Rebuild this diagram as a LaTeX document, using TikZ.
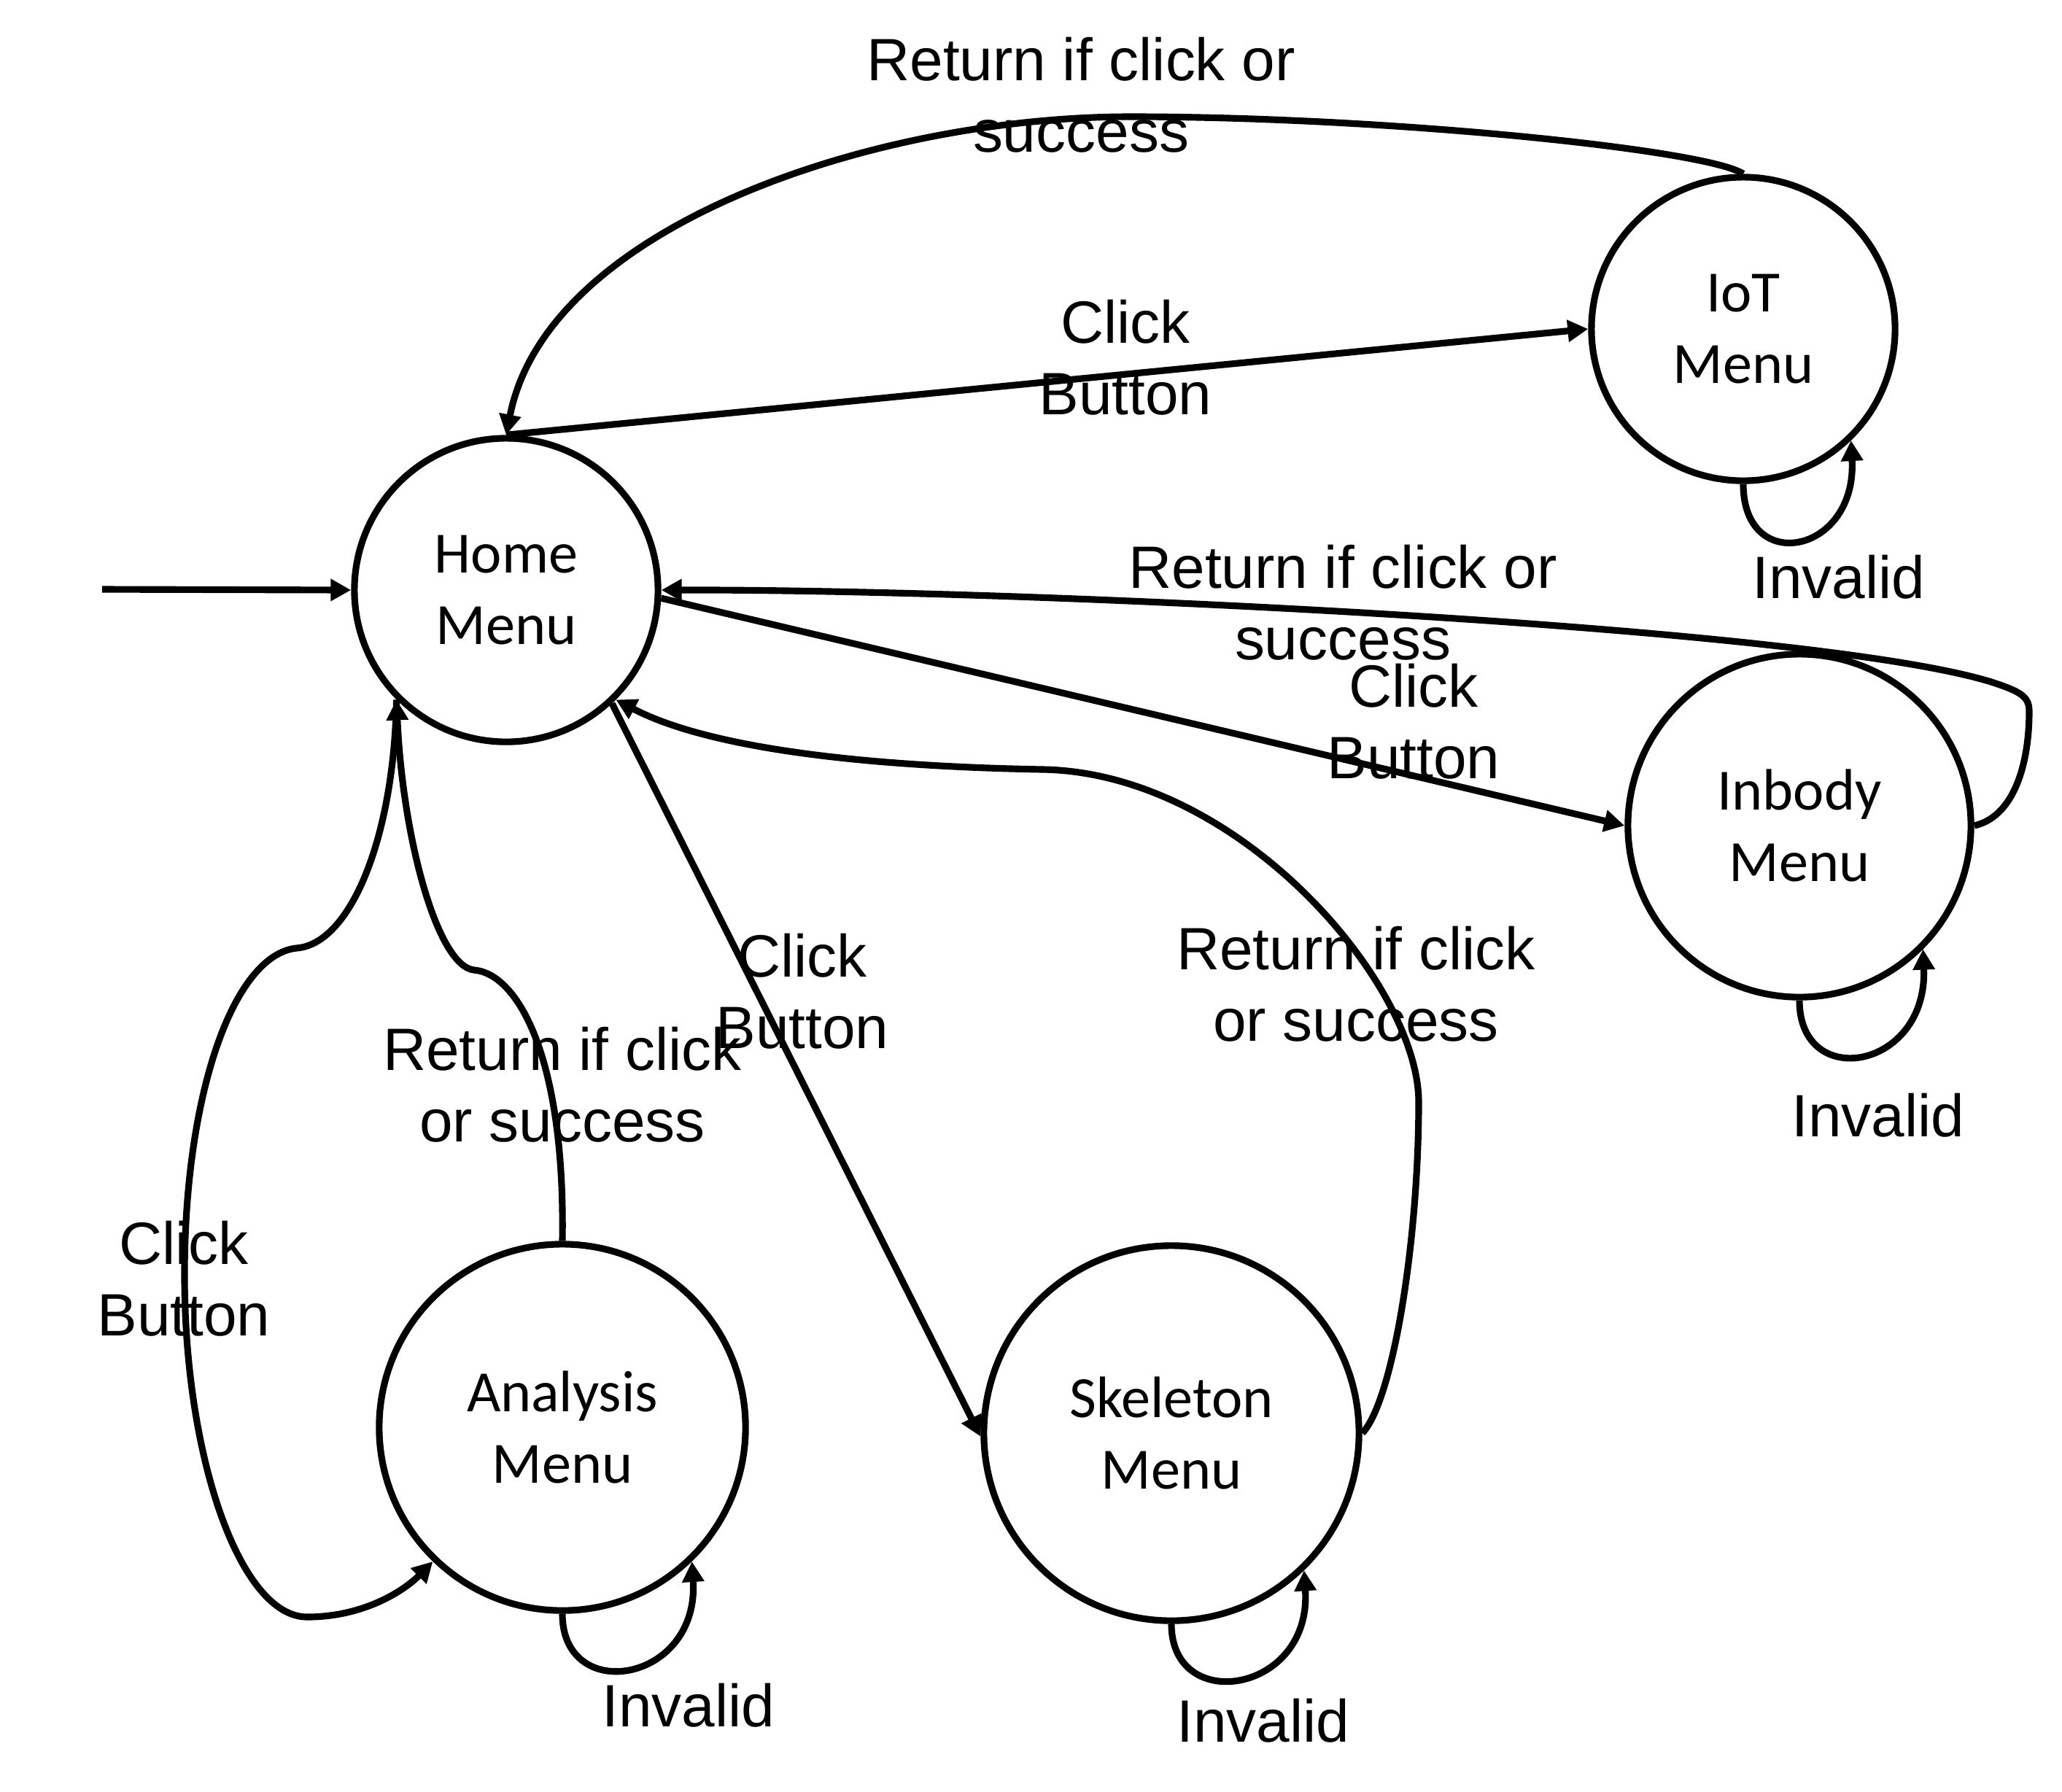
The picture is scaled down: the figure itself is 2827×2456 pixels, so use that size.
\documentclass[tikz,border=0pt]{standalone}
\usepackage{fontspec}
\setmainfont{Liberation Sans}
\newfontfamily\nodefont{Carlito}
\usetikzlibrary{arrows.meta}
\begin{document}
\begin{tikzpicture}[x=0.01cm,y=-0.01cm,
  state/.style={circle,draw,line width=2.6pt,inner sep=0pt,
    font=\nodefont\fontsize{22.8}{27.9}\selectfont,align=center},
  lbl/.style={inner sep=0pt,font=\fontsize{23.3}{28}\selectfont,align=center},
  edge/.style={line width=2.6pt,-{Triangle[length=0.28cm,width=0.29cm]}},
]
\useasboundingbox (0,0) rectangle (2827,2456);

% states
\node[state,minimum size=4.16cm] (home) at (694,809) {Home\\Menu};
\node[state,minimum size=4.16cm] (iot) at (2390,451) {IoT\\Menu};
\node[state,minimum size=4.70cm] (inbody) at (2467,1132) {Inbody\\Menu};
\node[state,minimum size=5.02cm] (analysis) at (771,1957) {Analysis\\Menu};
\node[state,minimum size=5.14cm] (skel) at (1606,1965) {Skeleton\\Menu};

% initial arrow
\coordinate (init) at (140,808);
\draw[edge] (init) -- (home.west);

% Home <-> IoT
\draw[edge] (home.north) -- (iot.west);
\draw[edge] (iot.north) .. controls (2340,205) and (1900,160) .. (1550,160)
  .. controls (1200,160) and (750,310) .. (home.north);

% Home <-> Inbody
\draw[edge] (home.-3) -- (inbody.west);
\draw[edge] (inbody.east) .. controls (2760,1120) and (2782,1050) .. (2782,975)
  .. controls (2782,955) and (2770,948) .. (2730,935)
  .. controls (2480,858) and (1400,808) .. (home.east);

% Home <-> Skeleton
\draw[edge] (home.-47) -- (skel.181);
\draw[edge] (skel.east) .. controls (1910,1920) and (1945,1700) .. (1945,1511)
  .. controls (1945,1350) and (1700,1060) .. (1430,1055)
  .. controls (1150,1050) and (960,1020) .. (home.-45);

% Home <-> Analysis
\draw[edge] (home.225) .. controls (540,1150) and (480,1295) .. (406,1300)
  .. controls (320,1310) and (253,1500) .. (253,1748)
  .. controls (253,2000) and (330,2217) .. (421,2217)
  .. controls (500,2217) and (555,2180) .. (analysis.226);
\draw[edge] (analysis.north) .. controls (775,1450) and (710,1335) .. (650,1330)
  .. controls (600,1325) and (552,1150) .. (home.225);

% self loops
\draw[edge] (iot.south) .. controls (2390,790) and (2546,760) .. (iot.-46);
\draw[edge] (inbody.south) .. controls (2467,1497) and (2643,1467) .. (inbody.-45);
\draw[edge] (analysis.south) .. controls (771,2338) and (959,2308) .. (analysis.-46);
\draw[edge] (skel.south) .. controls (1606,2352) and (1799,2322) .. (skel.-46);

% labels
\node[lbl] (l1) at (1482,130) {Return if click or\\success};
\node[lbl] (l2) at (1543,490) {Click\\Button};
\node[lbl] (l3) at (1841,826) {Return if click or\\success};
\node[lbl] (l4) at (1938,989) {Click\\Button};
\node[lbl] (l5) at (1100,1359) {Click\\Button};
\node[lbl] (l6) at (1859,1349) {Return if click\\or success};
\node[lbl] (l7) at (771,1487) {Return if click\\or success};
\node[lbl] (l8) at (252,1753) {Click\\Button};
\node[lbl] (i1) at (2521,791) {Invalid};
\node[lbl] (i2) at (2575,1529) {Invalid};
\node[lbl] (i3) at (944,2338) {Invalid};
\node[lbl] (i4) at (1732,2359) {Invalid};
\end{tikzpicture}
\end{document}
